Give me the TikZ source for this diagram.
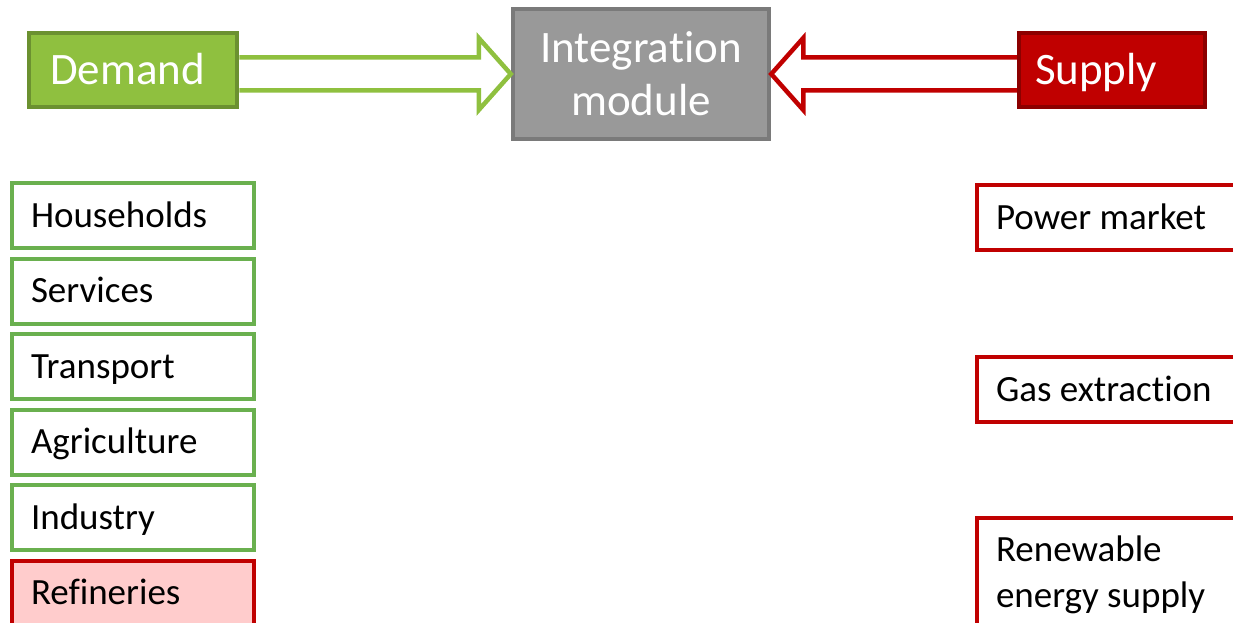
\documentclass[tikz,border=0pt]{standalone}
\usepackage{fontspec}
\setmainfont{Carlito}[Ligatures=NoCommon]
\usepackage{tikz}
\usetikzlibrary{positioning,calc}
\definecolor{demfill}{HTML}{8FC03F}
\definecolor{demline}{HTML}{6B9130}
\definecolor{supfill}{HTML}{C00000}
\definecolor{supline}{HTML}{8C0000}
\definecolor{intfill}{HTML}{999999}
\definecolor{intline}{HTML}{7A7A7A}
\definecolor{secline}{HTML}{6AB04F}
\definecolor{refill}{HTML}{FFCCCC}

\begin{document}
\begin{tikzpicture}[x=1pt, y=-1pt, node distance = 10.5pt,
  head/.style={draw, line width=4.5pt, text=white, font=\fontsize{45}{54}\selectfont,
    minimum height=74pt, inner ysep=0pt, text height=30pt, text depth=0pt, align=left},
  item/.style={draw, line width=4pt, outer sep=0pt, font=\fontsize{37}{46}\selectfont, inner xsep=19pt, align=flush left},
  single/.style={item, minimum height=65pt, inner ysep=0pt, text height=27pt, text depth=4pt},
  demitem/.style={single, draw=secline, text width=204pt},
  supitem/.style={single, draw=supfill, text width=262pt},
  blockarrow/.style={line width=4.5pt, fill=white}]
\useasboundingbox (0,0) rectangle (1233,623);
\clip (0,0) rectangle (1233,623);

% top row
\node[head, fill=demfill, draw=demline, text width=166pt, inner xsep=21pt] (dem) at (133,70) {Demand};
\node[head, fill=supfill, draw=supline, text width=154pt, inner xsep=16pt] (sup) at (1112,70) {Supply};
\node[draw=intline, fill=intfill, line width=4.5pt, text=white, font=\fontsize{45}{53}\selectfont,
  minimum width=256pt, minimum height=130pt, align=center] (integ) at (641,74) {Integration\\module};

\draw[blockarrow, draw=demfill] ($(dem.east |- integ.west)+(0,-16.5)$) -- ($(integ.west)+(-32,-16.5)$)
  -- ($(integ.west)+(-32,-36)$) -- (integ.west) -- ($(integ.west)+(-32,36)$)
  -- ($(integ.west)+(-32,16.5)$) -- ($(dem.east |- integ.west)+(0,16.5)$);
\draw[blockarrow, draw=supfill] ($(sup.west |- integ.east)+(0,-16.5)$) -- ($(integ.east)+(32,-16.5)$)
  -- ($(integ.east)+(32,-36)$) -- (integ.east) -- ($(integ.east)+(32,36)$)
  -- ($(integ.east)+(32,16.5)$) -- ($(sup.west |- integ.east)+(0,16.5)$);

% demand sectors
\node[demitem, anchor=north west] (hh) at (12,183) {Households};
\node[demitem] (serv) [below=of hh] {Services};
\node[demitem] (trans) [below=of serv] {Transport};
\node[demitem] (agri) [below=of trans] {Agriculture};
\node[demitem] (ind) [below=of agri] {Industry};
\node[demitem, draw=supfill, fill=refill] (ref) [below=of ind] {Refineries};

% supply modules
\node[supitem, anchor=north west] (pm) at (977,185) {Power market};
\node[supitem] (gas) [below=107pt of pm] {Gas extraction};
\node[item, draw=supfill, text width=262pt, inner ysep=18pt] (ren) [below=96pt of gas] {Renewable\\energy supply};
\end{tikzpicture}
\end{document}
